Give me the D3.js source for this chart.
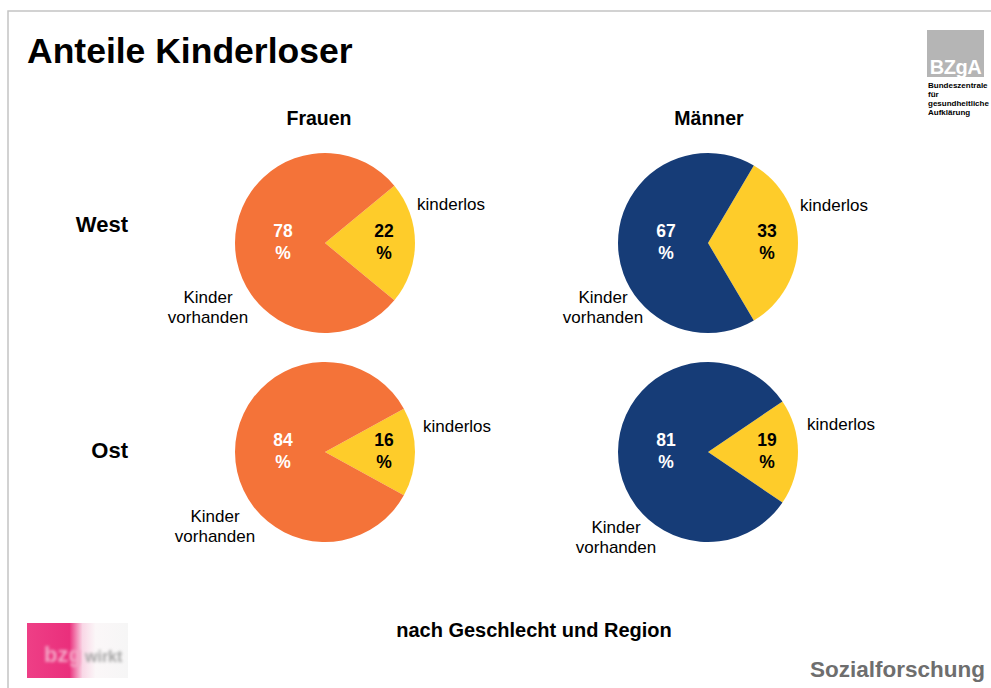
<!DOCTYPE html>
<html>
<head>
<meta charset="utf-8">
<script src="https://cdn.jsdelivr.net/npm/d3@7"></script>
<style>
  html, body { margin: 0; padding: 0; background: #fff; }
  svg { display: block; font-family: "Liberation Sans", Arial, sans-serif; }
</style>
</head>
<body>
<svg id="chart" width="991" height="688"></svg>
<script>
// ---- data ----
const regions = ["West", "Ost"];
const genders = ["Frauen", "Männer"];
const segmentLabels = ["kinderlos", "Kinder vorhanden"];
const frauenKinderlos = [22, 16];
const frauenKinder = [78, 84];
const maennerKinderlos = [33, 19];
const maennerKinder = [67, 81];

// ---- layout (positions, not data) ----
const W = 991, H = 688;
const svg = d3.select("#chart");
const R = 90;
const colX = d3.scaleOrdinal().domain(genders).range([325, 708]);
const headerX = d3.scaleOrdinal().domain(genders).range([319, 709]);
const rowY = d3.scaleOrdinal().domain(regions).range([243, 452]);
const kidColor = d3.scaleOrdinal().domain(genders).range(["#F47339", "#163C77"]);
const yellow = "#FECC2A";

// outside label offsets per panel [gender][region]
const labelOffsets = {
  "Frauen": { "West": {k: [92, -33], v: [-117, 60]}, "Ost": {k: [98, -20], v: [-110, 70]} },
  "Männer": { "West": {k: [92, -32], v: [-105, 60]}, "Ost": {k: [99, -22], v: [-92, 81]} }
};

// frame
svg.append("path")
  .attr("d", `M8,${H} L8,11 L${W},11`)
  .attr("fill", "none").attr("stroke", "#C4C4C4").attr("stroke-width", 1.5);

// title
svg.append("text").attr("x", 27).attr("y", 63)
  .attr("font-size", 35.5).attr("font-weight", "bold").attr("fill", "#000")
  .text("Anteile Kinderloser");

// column headers
genders.forEach(g => {
  svg.append("text").attr("x", headerX(g)).attr("y", 125)
    .attr("text-anchor", "middle").attr("font-size", 19.5).attr("font-weight", "bold")
    .text(g);
});
// row headers
regions.forEach((r, i) => {
  svg.append("text").attr("x", 128).attr("y", i === 0 ? 232 : 458)
    .attr("text-anchor", "end").attr("font-size", 22).attr("font-weight", "bold")
    .text(r);
});

const arc = d3.arc().innerRadius(0).outerRadius(R);

function drawPie(g, r, kinderlos, kinder) {
  const cx = colX(g), cy = rowY(r);
  const frac = kinderlos / (kinderlos + kinder);
  const start = Math.PI / 2 - frac * Math.PI;
  const pie = d3.pie().sort(null).value(d => d.v)
    .startAngle(start).endAngle(start + 2 * Math.PI);
  const arcs = pie([{k: "kinderlos", v: kinderlos}, {k: "kinder", v: kinder}]);
  const grp = svg.append("g").attr("transform", `translate(${cx},${cy})`);
  grp.selectAll("path").data(arcs).join("path")
    .attr("d", arc)
    .attr("fill", d => d.data.k === "kinderlos" ? yellow : kidColor(g));

  // inner value labels
  arcs.forEach(d => {
    const mid = (d.startAngle + d.endAngle) / 2;
    const rr = d.data.k === "kinderlos" ? 59 : 42;
    const x = Math.sin(mid) * rr;
    const col = d.data.k === "kinderlos" ? "#000" : "#fff";
    const t = grp.append("text").attr("text-anchor", "middle")
      .attr("font-size", 17.5).attr("font-weight", "bold").attr("fill", col);
    t.append("tspan").attr("x", x).attr("y", -6).text(d.data.v);
    t.append("tspan").attr("x", x).attr("y", 16).text("%");
  });

  // outside labels
  const off = labelOffsets[g][r];
  grp.append("text").attr("x", off.k[0]).attr("y", off.k[1])
    .attr("font-size", 17).attr("fill", "#000").text(segmentLabels[0]);
  const parts = segmentLabels[1].split(" ");
  const vt = grp.append("text").attr("text-anchor", "middle")
    .attr("font-size", 17).attr("fill", "#000");
  parts.forEach((p, i) => {
    vt.append("tspan").attr("x", off.v[0]).attr("y", off.v[1] + i * 20).text(p);
  });
}

regions.forEach((r, i) => {
  drawPie("Frauen", r, frauenKinderlos[i], frauenKinder[i]);
  drawPie("Männer", r, maennerKinderlos[i], maennerKinder[i]);
});

// subtitle
svg.append("text").attr("x", 534).attr("y", 637)
  .attr("text-anchor", "middle").attr("font-size", 20).attr("font-weight", "bold")
  .text("nach Geschlecht und Region");

// footer
svg.append("text").attr("x", 985).attr("y", 677)
  .attr("text-anchor", "end").attr("font-size", 22.5).attr("font-weight", "bold")
  .attr("fill", "#6E6E6E").text("Sozialforschung");

// BZgA logo
svg.append("rect").attr("x", 927).attr("y", 30).attr("width", 57).attr("height", 47)
  .attr("fill", "#B5B5B5");
svg.append("text").attr("x", 955.5).attr("y", 74).attr("text-anchor", "middle")
  .attr("font-size", 20).attr("font-weight", "bold").attr("fill", "#fff")
  .attr("letter-spacing", -0.5).text("BZgA");
["Bundeszentrale", "für", "gesundheitliche", "Aufklärung"].forEach((s, i) => {
  svg.append("text").attr("x", 928).attr("y", 88 + i * 9)
    .attr("font-size", 8).attr("font-weight", "bold").attr("fill", "#000").text(s);
});

// bottom-left logo (blurred)
const defs = svg.append("defs");
const grad = defs.append("linearGradient").attr("id", "lg").attr("x1", 0).attr("x2", 1);
grad.append("stop").attr("offset", "0%").attr("stop-color", "#EE3F86");
grad.append("stop").attr("offset", "42%").attr("stop-color", "#EA2F7C");
grad.append("stop").attr("offset", "55%").attr("stop-color", "#F9D7E6");
grad.append("stop").attr("offset", "68%").attr("stop-color", "#FBF7F8");
grad.append("stop").attr("offset", "100%").attr("stop-color", "#F6F6F6");
defs.append("filter").attr("id", "blur").append("feGaussianBlur").attr("stdDeviation", 1.4);
svg.append("rect").attr("x", 27).attr("y", 623).attr("width", 101).attr("height", 55)
  .attr("fill", "url(#lg)");
svg.append("text").attr("x", 44).attr("y", 662).attr("font-size", 22)
  .attr("font-weight", "bold").attr("fill", "#F4A6C6").attr("filter", "url(#blur)").text("bzg");
svg.append("text").attr("x", 85).attr("y", 662).attr("font-size", 16)
  .attr("font-weight", "bold").attr("fill", "#A5A5A5").attr("filter", "url(#blur)").text("wirkt");
</script>
</body>
</html>
